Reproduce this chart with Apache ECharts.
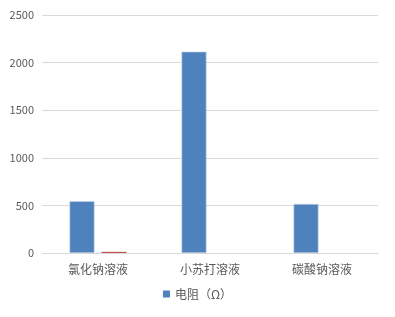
<!DOCTYPE html>
<html>
<head>
<meta charset="utf-8">
<script src="https://cdn.jsdelivr.net/npm/echarts@6/dist/echarts.min.js"></script>
<style>
html,body{margin:0;padding:0;background:#fff;}
#chart{width:395px;height:317px;}
</style>
</head>
<body>
<div id="chart"></div>
<script>
// Solutions measured
const categories = ['氯化钠溶液', '小苏打溶液', '碳酸钠溶液'];
// Resistance readings (Ω)
const resistance = [545, 2115, 515];
// Secondary series (only the first solution has a reading)
const secondary = [12, 0, 0];
const yTicks = { min: 0, max: 2500, interval: 500 };

const chart = echarts.init(document.getElementById('chart'));
const font = '"Noto Sans CJK SC", "Microsoft YaHei", sans-serif';
chart.setOption({
  animation: false,
  grid: { left: 42, right: 17, top: 15, bottom: 64, containLabel: false },
  legend: {
    data: [{ name: '电阻（Ω）', itemStyle: { borderWidth: 0 } }],
    bottom: 12,
    left: 'center',
    itemWidth: 7,
    itemHeight: 7,
    itemGap: 10,
    icon: 'rect',
    textStyle: { color: '#595959', fontSize: 12, fontFamily: font }
  },
  xAxis: {
    type: 'category',
    data: categories,
    axisLine: { lineStyle: { color: '#d9d9d9' } },
    axisTick: { show: false },
    axisLabel: { color: '#595959', fontSize: 12, fontFamily: font, margin: 10 }
  },
  yAxis: {
    type: 'value',
    min: yTicks.min,
    max: yTicks.max,
    interval: yTicks.interval,
    axisLine: { show: false },
    axisTick: { show: false },
    splitLine: { lineStyle: { color: '#d9d9d9' } },
    axisLabel: {
      color: '#595959', fontSize: 11, fontFamily: font, margin: 8,
      formatter: v => String(v)
    }
  },
  series: [
    {
      name: '电阻（Ω）',
      type: 'bar',
      data: resistance,
      barWidth: 25,
      barGap: '28%',
      itemStyle: { color: '#4F81BD', borderColor: '#c8d7ea', borderWidth: 0.6 }
    },
    {
      name: '其他',
      type: 'bar',
      data: secondary,
      barWidth: 25,
      itemStyle: { color: '#C0504D' }
    }
  ]
});
</script>
</body>
</html>
